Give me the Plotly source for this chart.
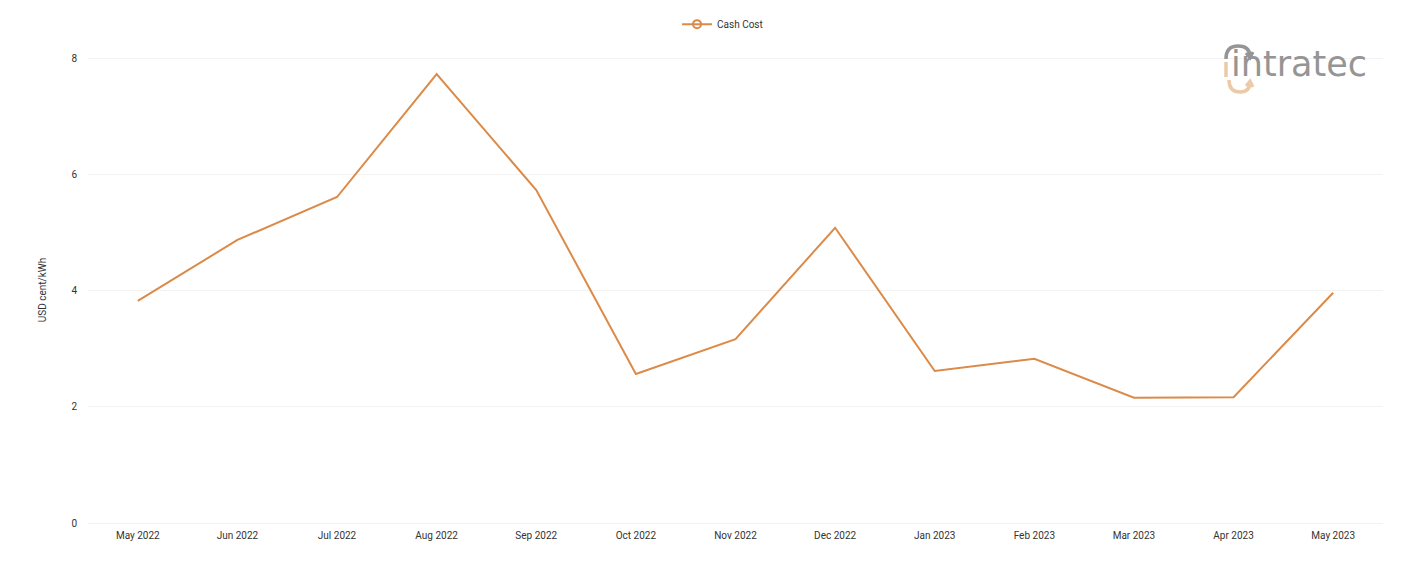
import plotly.graph_objects as go

months = ["May 2022", "Jun 2022", "Jul 2022", "Aug 2022", "Sep 2022", "Oct 2022", "Nov 2022",
          "Dec 2022", "Jan 2023", "Feb 2023", "Mar 2023", "Apr 2023", "May 2023"]
cash_cost = [3.83, 4.88, 5.62, 7.74, 5.74, 2.57, 3.17, 5.09, 2.62, 2.83, 2.16, 2.17, 3.97]
y_ticks = [0, 2, 4, 6, 8]

COLOR = "#dc8a48"
# page has an 8px body margin; plot area in page pixels: x 88..1383, y 57..523
W, H = 1393, 553
ML, MR, MT, MB = 80, 18, 49, 38
X0, X1, Y0, Y1 = 88, 1383, 57, 523


def px(x):
    return (x - X0) / (X1 - X0)


def py(y):
    return (Y1 - y) / (Y1 - Y0)


fig = go.Figure()
fig.add_trace(go.Scatter(x=months, y=cash_cost, mode="lines", name="Cash Cost",
                         line=dict(color=COLOR, width=2), showlegend=False,
                         hovertemplate="%{x}: %{y:.2f}<extra></extra>"))
fig.add_trace(go.Scatter(x=[None], y=[None], mode="lines+markers", name="Cash Cost",
                         line=dict(color=COLOR, width=2),
                         marker=dict(symbol="circle-open", size=8, color=COLOR, line=dict(width=2))))

# logo
GRAY = "#959595"
PEACH = "#ebcaa8"
shapes = [
    # gray arc over the i
    dict(type="path", xref="paper", yref="paper",
         path=f"M {px(1226)},{py(59)} Q {px(1226)},{py(46)} {px(1238)},{py(46)} Q {px(1250)},{py(46)} {px(1250)},{py(57)}",
         line=dict(color=GRAY, width=3.5)),
    dict(type="path", xref="paper", yref="paper",
         path=f"M {px(1246)},{py(53)} L {px(1250)},{py(58)} L {px(1253)},{py(52)}",
         line=dict(color=GRAY, width=3)),
    # peach bar on the left
    dict(type="line", xref="paper", yref="paper",
         x0=px(1226), x1=px(1226), y0=py(62), y1=py(77),
         line=dict(color=PEACH, width=3.5)),
    # peach arc under
    dict(type="path", xref="paper", yref="paper",
         path=f"M {px(1229)},{py(80)} Q {px(1229)},{py(92)} {px(1240)},{py(92)} Q {px(1250)},{py(92)} {px(1250)},{py(82)}",
         line=dict(color=PEACH, width=3.5)),
    dict(type="path", xref="paper", yref="paper",
         path=f"M {px(1246)},{py(86)} L {px(1250)},{py(81)} L {px(1253)},{py(87)}",
         line=dict(color=PEACH, width=3)),
]
annotations = [
    dict(xref="paper", yref="paper", x=px(1229), y=py(64), xanchor="left", yanchor="middle",
         text="intratec", showarrow=False,
         font=dict(family="DejaVu Sans, sans-serif", size=35, color=GRAY)),
]

fig.update_layout(
    width=W, height=H,
    margin=dict(l=ML, r=MR, t=MT, b=MB),
    paper_bgcolor="white", plot_bgcolor="white",
    font=dict(family="Roboto, sans-serif", size=10, color="#333333"),
    legend=dict(orientation="h", x=0.49, xanchor="center", y=0.997, yanchor="top",
                yref="container", font=dict(size=10, color="#333333")),
    xaxis=dict(type="category", range=[-0.5, len(months) - 0.5], showgrid=False,
               showline=True, linecolor="#f2f2f2", ticklabelstandoff=3,
               ticks="", tickfont=dict(size=10, color="#333333")),
    yaxis=dict(range=[0, 8.034], tickvals=y_ticks, showgrid=True, gridcolor="#f3f3f3",
               zeroline=False, showline=False, ticks="", ticklen=0, ticklabelstandoff=10,
               title=dict(text="USD cent/kWh", font=dict(size=10, color="#333333"), standoff=22),
               tickfont=dict(size=10, color="#333333")),
    shapes=shapes, annotations=annotations,
)

fig.write_html("out.html")
